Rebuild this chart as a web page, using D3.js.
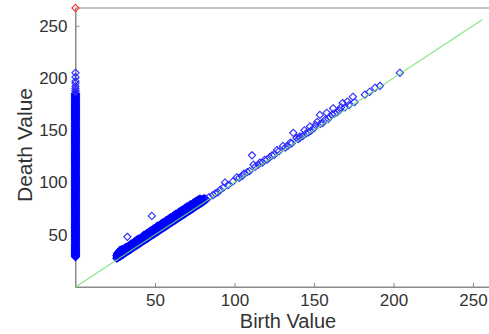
<!DOCTYPE html>
<html>
<head>
<meta charset="utf-8">
<script src="https://cdn.jsdelivr.net/npm/d3@7"></script>
<style>
  html, body { margin: 0; padding: 0; background: #fff; }
  svg { display: block; }
  text { font-family: "Liberation Sans", Arial, Helvetica, sans-serif; fill: #333; }
</style>
</head>
<body>
<svg id="chart" width="489" height="334"></svg>
<script>
// Persistence diagram: (birth, death) pairs.

// Tick values on both axes
const xTicks = [50, 100, 150, 200, 250];
const yTicks = [50, 100, 150, 200, 250];

// Classes born at 0 (vertical column on the death axis)
const zeroBirthDeaths = [
  29, 30, 31, 32, 33, 34, 35, 36, 37, 38, 39, 40, 41, 42, 43, 44, 45, 46, 47, 48, 49,
  50, 51, 52, 53, 54, 55, 56, 57, 58, 59, 60, 61, 62, 63, 64, 65, 66, 67, 68, 69,
  70, 71, 72, 73, 74, 75, 76, 77, 78, 79, 80, 81, 82, 83, 84, 85, 86, 87, 88, 89,
  90, 91, 92, 93, 94, 95, 96, 97, 98, 99, 100, 101, 102, 103, 104, 105, 106, 107, 108, 109,
  110, 111, 112, 113, 114, 115, 116, 117, 118, 119, 120, 121, 122, 123, 124, 125, 126, 127, 128, 129,
  130, 131, 132, 133, 134, 135, 136, 137, 138, 139, 140, 141, 142, 143, 144, 145, 146, 147, 148, 149,
  150, 151, 152, 153, 154, 155, 156, 157, 158, 159, 160, 161, 162, 163, 164, 165, 166, 167, 168, 169,
  170, 171, 172, 173, 174, 175, 176, 177, 178, 179, 180, 181, 182, 183, 184, 185
];
const zeroBirthSparseDeaths = [186.5, 188, 190, 192, 195, 197, 201, 205];

// Essential class (never dies), drawn at the top of the death axis
const essentialBirth = [0];
const essentialDeath = [267];

// Dense band of short-lived classes, birth 26 to 82
const bandBirths = [
  26, 26, 27, 27, 27, 28, 28, 28, 29, 29, 29, 30, 30, 30, 31, 31, 31, 32, 32, 32,
  33, 33, 34, 34, 34, 35, 35, 35, 36, 36, 37, 37, 37, 38, 38, 38, 39, 39, 39, 40, 40, 40,
  41, 41, 42, 42, 42, 43, 43, 43, 44, 44, 44, 45, 45, 45, 46, 46, 47, 47, 47, 48, 48, 48,
  49, 49, 49, 50, 50, 50, 51, 51, 51, 52, 52, 52, 53, 53, 54, 54, 54, 55, 55, 55,
  56, 56, 56, 57, 57, 57, 58, 58, 58, 59, 59, 59, 60, 60, 60, 61, 61, 61, 62, 62, 62,
  63, 63, 63, 64, 64, 64, 65, 65, 65, 66, 66, 66, 67, 67, 67, 68, 68, 68, 69, 69, 69,
  70, 70, 70, 71, 71, 71, 72, 72, 72, 73, 73, 73, 74, 74, 74, 75, 75, 75, 76, 76, 76,
  77, 77, 77, 78, 78, 78, 79, 79, 80, 80, 81, 81, 82
];
const bandDeaths = [
  27.5, 30, 28.5, 31, 33, 29.5, 32, 35, 30.5, 33, 35.5, 31.5, 34, 36, 32.5, 35, 37, 33.5, 36, 38,
  34.5, 37.5, 35.5, 38, 40, 36.5, 39, 41, 37.5, 40.5, 38.5, 41, 43, 39.5, 42.5, 44, 40.5, 43, 45.5, 41.5, 44, 46,
  42.5, 45.5, 43.5, 46, 48, 44.5, 47, 49.5, 45.5, 48.5, 50, 46.5, 49, 51.5, 47.5, 50.5, 48.5, 51, 53.5, 49.5, 52, 54,
  50.5, 53.5, 55.5, 51.5, 54, 56, 52.5, 55.5, 57.5, 53.5, 56, 58.5, 54.5, 57.5, 55.5, 58, 60.5, 56.5, 59, 61.5,
  57.5, 60.5, 62, 58.5, 61, 63.5, 59.5, 62.5, 64, 60.5, 63, 65.5, 61.5, 64.5, 66.5, 62.5, 65, 67, 63.5, 66.5, 68.5,
  64.5, 67, 69.5, 65.5, 68.5, 70, 66.5, 69, 71.5, 67.5, 70.5, 72.5, 68.5, 71, 73.5, 69.5, 72.5, 74, 70.5, 73, 75.5,
  71.5, 74.5, 76.5, 72.5, 75, 77, 73.5, 76.5, 78.5, 74.5, 77, 79, 75.5, 78, 80, 76.5, 79, 81, 77.5, 80, 82,
  78.5, 81, 83, 79.5, 82, 84, 80.5, 83, 81.5, 84, 82.5, 84.5, 83.5
];

// Further pairs filling the dense band
const bandMid = [
  [26.5, 29.5], [26.5, 32], [27.5, 30.5], [27.5, 33.5], [28.5, 31.5], [28.5, 34.5],
  [29.5, 32.5], [29.5, 35], [30.5, 33.5], [30.5, 36], [31.5, 34.5], [31.5, 37],
  [32.5, 35.5], [32.5, 38], [33.5, 36.5], [33.5, 39], [34.5, 37.5], [34.5, 40],
  [35.5, 38.5], [35.5, 41], [36.5, 39.5], [36.5, 42], [37.5, 40.5], [37.5, 43],
  [38.5, 41.5], [38.5, 44], [39.5, 42.5], [39.5, 45], [40.5, 43.5], [40.5, 46],
  [41.5, 44.5], [41.5, 47], [42.5, 45.5], [42.5, 48], [43.5, 46.5], [43.5, 49],
  [44.5, 47.5], [44.5, 50], [45.5, 48.5], [45.5, 51], [46.5, 49.5], [46.5, 52],
  [47.5, 50.5], [47.5, 53], [48.5, 51.5], [48.5, 54], [49.5, 52.5], [49.5, 55],
  [50.5, 53.5], [50.5, 56], [51.5, 54.5], [51.5, 57], [52.5, 55.5], [52.5, 58],
  [53.5, 56.5], [53.5, 59], [54.5, 57.5], [54.5, 60], [55.5, 58.5], [55.5, 61],
  [56.5, 59.5], [56.5, 62], [57.5, 60.5], [57.5, 63], [58.5, 61.5], [58.5, 64],
  [59.5, 62.5], [59.5, 65], [60.5, 63.5], [60.5, 66], [61.5, 64.5], [61.5, 67],
  [62.5, 65.5], [62.5, 68], [63.5, 66.5], [63.5, 69], [64.5, 67.5], [64.5, 70],
  [65.5, 68.5], [65.5, 71], [66.5, 69.5], [66.5, 72], [67.5, 70.5], [67.5, 73],
  [68.5, 71.5], [68.5, 74], [69.5, 72.5], [69.5, 75], [70.5, 73.5], [70.5, 76],
  [71.5, 74.5], [71.5, 77], [72.5, 75.5], [72.5, 78], [73.5, 76.5], [73.5, 79],
  [74.5, 77.5], [74.5, 80], [75.5, 78.5], [75.5, 81], [76.5, 79.5], [76.5, 82],
  [77.5, 80.5], [77.5, 83], [78.5, 81.5], [78.5, 84], [79.5, 82.5], [80.5, 83], [81.5, 84]
];

// Scattered classes: outliers above the band and the sparse tail up to birth 204
const sparseBirths = [
  32.6, 48,
  84, 86.5, 88, 89.5, 91, 93, 94, 96, 99, 101.5, 103, 104.7, 106, 108, 109.5, 111, 112,
  113, 115, 116, 117.5, 119, 120.5, 122, 123.6, 125, 126.7, 128, 130.5, 132, 133.5, 135,
  136, 137, 139, 140, 141, 141, 143, 144, 145, 146.5, 147.5, 148, 150, 151, 152, 153.7,
  154, 155.5, 157, 158, 159, 160, 161.5, 162, 163, 164.5, 166, 167, 168, 169.5, 171, 172,
  174.5, 175.5, 182, 185, 188.4, 191.5, 204
];
const sparseDeaths = [
  48, 68,
  86, 88, 89.5, 90.5, 93, 95, 100, 97.5, 101, 105, 104.5, 106, 108.5, 110, 111, 126, 117,
  115, 117, 119, 119, 121.6, 122, 124, 126, 126.5, 131, 130, 135, 133.5, 135, 138,
  137.5, 147.5, 142.7, 141.5, 144, 142.5, 144.6, 150, 147, 148, 153.6, 149.5, 152, 155, 158, 164.7,
  156, 157, 160, 166.7, 161, 163, 165, 171, 166, 167, 169, 172, 176, 172, 177.5, 174,
  182, 177, 184, 186.8, 190.6, 192.5, 205
];

// Diagonal reference line (birth = death)
const diagonalEnds = [0, 256];

const svg = d3.select("#chart");
const margin = { left: 75.5, top: 8, bottom: 287 };

const x = d3.scaleLinear().domain([0, 262]).range([margin.left, margin.left + 262 * 1.59]);
const y = d3.scaleLinear().domain([0, 267]).range([margin.bottom, margin.top]);

const axisColor = "#8a8a8a";

// Plot box
svg.append("rect")
  .attr("x", x(0)).attr("y", y(267))
  .attr("width", x(262) - x(0)).attr("height", y(0) - y(267))
  .attr("fill", "none").attr("stroke", axisColor).attr("stroke-width", 1);

// Axes with inward ticks
const xAxis = svg.append("g").attr("transform", `translate(0,${y(0)})`)
  .call(d3.axisBottom(x).tickValues(xTicks).tickSizeInner(-4).tickSizeOuter(0).tickPadding(7));
const yAxis = svg.append("g").attr("transform", `translate(${x(0)},0)`)
  .call(d3.axisLeft(y).tickValues(yTicks).tickSizeInner(-4).tickSizeOuter(0).tickPadding(8));
[xAxis, yAxis].forEach(g => {
  g.selectAll("path, line").attr("stroke", axisColor);
  g.selectAll("text").attr("font-size", 17).attr("fill", "#333")
    .style("font-family", "'Liberation Sans', Arial, sans-serif");
});

// Diamond marker
const diamond = "M0,-3.6L3.6,0L0,3.6L-3.6,0Z";

function drawMarkers(points, color, width) {
  svg.append("g").selectAll("path").data(points).join("path")
    .attr("d", diamond)
    .attr("transform", p => `translate(${x(p.b)},${y(p.d)})`)
    .attr("fill", "none").attr("stroke", color).attr("stroke-width", width);
}

const densePts = bandBirths.map((b, i) => ({ b, d: bandDeaths[i] }))
  .concat(bandMid.map(([b, d]) => ({ b, d })))
  .concat(zeroBirthDeaths.map(d => ({ b: 0, d })));
const sparsePts = sparseBirths.map((b, i) => ({ b, d: sparseDeaths[i] }))
  .concat(zeroBirthSparseDeaths.map(d => ({ b: 0, d })));

drawMarkers(densePts, "#0000ff", 1.7);
drawMarkers(sparsePts, "#2a2aff", 1.1);
drawMarkers(essentialBirth.map((b, i) => ({ b, d: essentialDeath[i] })), "#ff3030", 1.1);

// Diagonal
svg.append("line")
  .attr("x1", x(diagonalEnds[0])).attr("y1", y(diagonalEnds[0]))
  .attr("x2", x(diagonalEnds[1])).attr("y2", y(diagonalEnds[1]))
  .attr("stroke", "#6fe06f").attr("stroke-width", 1.1).attr("stroke-opacity", 0.85);

// Axis titles
svg.append("text")
  .attr("x", 288).attr("y", 328)
  .attr("text-anchor", "middle").attr("font-size", 20)
  .text("Birth Value");
svg.append("text")
  .attr("transform", "translate(32,145) rotate(-90)")
  .attr("text-anchor", "middle").attr("font-size", 21)
  .text("Death Value");
</script>
</body>
</html>
